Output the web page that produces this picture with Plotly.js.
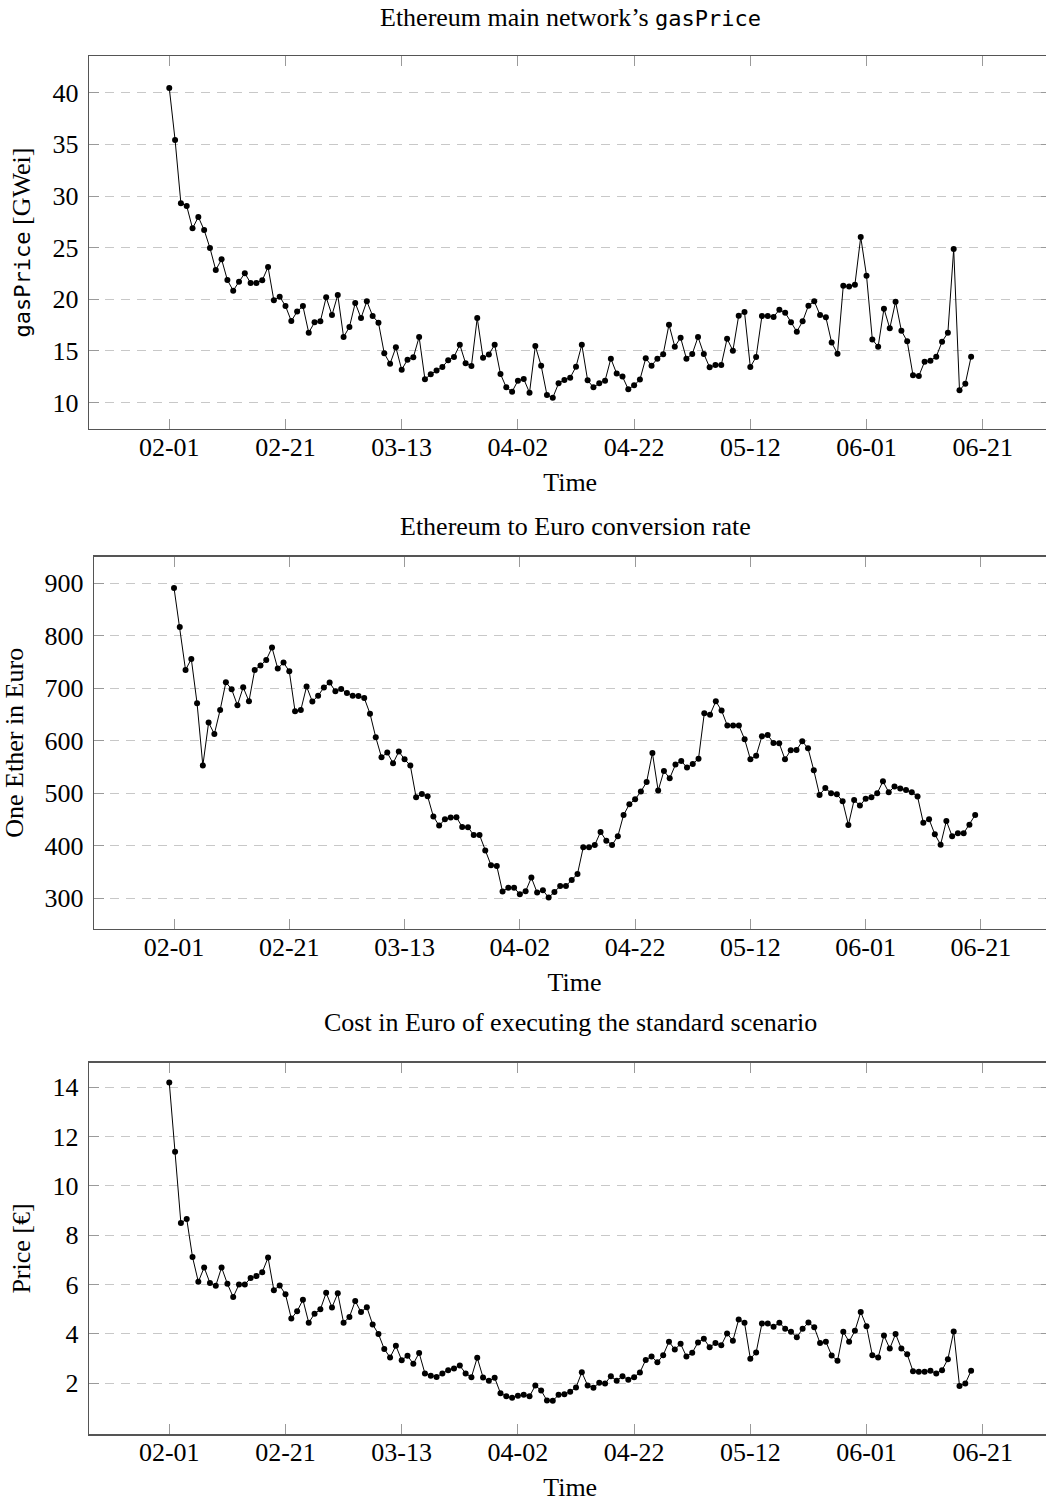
<!DOCTYPE html>
<html>
<head>
<meta charset="utf-8">
<script src="https://cdn.plot.ly/plotly-3.0.1.min.js"></script>
<style>html,body{margin:0;padding:0;overflow:hidden;background:#fff}</style>
</head>
<body>
<div id="chart" style="width:1070px;height:1505px"></div>
<script>
// ---- data (daily values starting 2018-02-01) ----
const startDate = '2018-02-01';

const gasPrice = [
  40.45, 35.42, 29.29, 29.03, 26.87, 27.97, 26.71, 24.97, 22.84, 23.87,
  21.87, 20.84, 21.71, 22.52, 21.58, 21.58, 21.84, 23.13, 19.90, 20.26,
  19.35, 17.90, 18.81, 19.35, 16.77, 17.77, 17.87, 20.19, 18.48, 20.42,
  16.35, 17.32, 19.65, 18.19, 19.81, 18.39, 17.74, 14.77, 13.77, 15.35,
  13.19, 14.16, 14.39, 16.35, 12.26, 12.74, 13.10, 13.45, 14.10, 14.42,
  15.61, 13.81, 13.55, 18.19, 14.35, 14.65, 15.61, 12.77, 11.48, 11.06,
  12.13, 12.29, 10.97, 15.48, 13.58, 10.74, 10.48, 11.87, 12.19, 12.42,
  13.48, 15.61, 12.16, 11.48, 11.87, 12.13, 14.26, 12.81, 12.52, 11.29,
  11.68, 12.23, 14.29, 13.58, 14.26, 14.68, 17.55, 15.42, 16.29, 14.26,
  14.71, 16.35, 14.71, 13.42, 13.65, 13.65, 16.19, 15.03, 18.42, 18.77,
  13.45, 14.42, 18.39, 18.39, 18.29, 19.00, 18.71, 17.77, 16.87, 17.87,
  19.39, 19.81, 18.48, 18.26, 15.81, 14.74, 21.32, 21.23, 21.42, 26.03,
  22.29, 16.10, 15.42, 19.10, 17.19, 19.77, 16.97, 15.94, 12.65, 12.58,
  13.97, 14.06, 14.45, 15.90, 16.77, 24.87, 11.19, 11.84, 14.45
];

const euroRate = [
  891.1, 816.8, 734.9, 755.9, 671.4, 552.7, 634.6, 613.0, 658.7, 711.4,
  698.1, 667.6, 701.9, 675.2, 734.9, 743.2, 754.0, 777.5, 737.5, 748.9,
  732.4, 656.2, 658.7, 703.2, 674.6, 686.0, 701.3, 710.8, 694.3, 698.7,
  691.1, 686.0, 685.4, 681.6, 651.7, 606.7, 568.6, 577.5, 557.1, 579.4,
  564.8, 552.7, 492.4, 498.7, 494.3, 455.6, 438.4, 450.5, 453.7, 454.3,
  435.9, 435.2, 420.6, 420.6, 390.8, 362.9, 361.6, 312.7, 320.3, 320.3,
  307.6, 313.3, 339.4, 310.8, 315.2, 301.3, 312.1, 323.5, 323.5, 334.6,
  346.3, 397.1, 397.1, 401.6, 426.3, 409.8, 401.6, 418.1, 458.7, 479.0,
  488.6, 503.2, 521.6, 576.8, 505.1, 542.5, 528.6, 554.6, 561.6, 548.9,
  555.9, 566.0, 652.4, 649.8, 675.2, 657.5, 628.9, 628.9, 628.9, 602.9,
  564.8, 571.7, 608.6, 611.1, 595.9, 595.2, 564.8, 581.9, 582.5, 599.0,
  585.7, 543.8, 496.8, 510.2, 500.0, 498.1, 484.8, 439.7, 487.3, 476.5,
  489.8, 492.4, 500.0, 522.9, 502.0, 512.7, 508.9, 506.3, 501.9, 493.7,
  444.1, 450.5, 421.9, 402.2, 447.3, 418.1, 423.8, 423.8, 440.3, 458.7
];

const cost = [
  14.20, 11.39, 8.49, 8.66, 7.11, 6.11, 6.69, 6.06, 5.95, 6.69,
  6.03, 5.49, 6.00, 6.00, 6.26, 6.34, 6.50, 7.09, 5.77, 5.96,
  5.60, 4.62, 4.91, 5.38, 4.45, 4.81, 4.99, 5.66, 5.07, 5.64,
  4.45, 4.68, 5.33, 4.88, 5.08, 4.38, 3.99, 3.38, 3.04, 3.51,
  2.93, 3.11, 2.78, 3.22, 2.39, 2.30, 2.25, 2.39, 2.52, 2.59,
  2.71, 2.39, 2.24, 3.03, 2.23, 2.09, 2.21, 1.59, 1.46, 1.40,
  1.48, 1.52, 1.46, 1.90, 1.70, 1.29, 1.28, 1.52, 1.55, 1.65,
  1.82, 2.44, 1.90, 1.81, 2.01, 1.98, 2.28, 2.09, 2.28, 2.13,
  2.24, 2.43, 2.94, 3.08, 2.84, 3.13, 3.68, 3.36, 3.59, 3.08,
  3.23, 3.65, 3.80, 3.45, 3.63, 3.53, 4.01, 3.72, 4.58, 4.45,
  2.99, 3.24, 4.42, 4.42, 4.28, 4.45, 4.20, 4.08, 3.86, 4.20,
  4.46, 4.26, 3.62, 3.68, 3.12, 2.90, 4.08, 3.68, 4.12, 4.88,
  4.30, 3.13, 3.04, 3.93, 3.40, 3.99, 3.40, 3.17, 2.48, 2.46,
  2.46, 2.50, 2.39, 2.52, 2.97, 4.09, 1.88, 1.98, 2.50
];

const tickDates  = ['2018-02-01','2018-02-21','2018-03-13','2018-04-02','2018-04-22','2018-05-12','2018-06-01','2018-06-21'];
const tickLabels = ['02-01','02-21','03-13','04-02','04-22','05-12','06-01','06-21'];
const gasTicks  = [10, 15, 20, 25, 30, 35, 40];
const rateTicks = [300, 400, 500, 600, 700, 800, 900];
const costTicks = [2, 4, 6, 8, 10, 12, 14];

const chartTitles = [
  'Ethereum main network\u2019s <span style="font-family:\'DejaVu Sans Mono\';font-size:22px">gasPrice</span>',
  'Ethereum to Euro conversion rate',
  'Cost in Euro of executing the standard scenario'
];
const yTitles = [
  '<span style="font-family:\'DejaVu Sans Mono\';font-size:22px">gasPrice</span> [GWei]',
  'One Ether in Euro',
  'Price [\u20AC]'
];
const xTitle = 'Time';

// ---- helpers ----
const DAY = 86400000;
const t0 = Date.parse(startDate + 'T00:00:00Z');
const dayString = i => new Date(t0 + i * DAY).toISOString().slice(0, 10);
const datesOf = arr => arr.map((_, i) => dayString(i));

const W = 1070, H = 1505;
const FONT = 'Liberation Serif, Times New Roman, serif';
const FS = 26;

function trace(values, xa, ya) {
  return {
    x: datesOf(values), y: values, xaxis: xa, yaxis: ya,
    type: 'scatter', mode: 'lines+markers',
    line: {color: '#000', width: 1},
    marker: {color: '#000', size: 6},
    hoverinfo: 'skip', showlegend: false
  };
}

function xAxis(px0, px1, n, anchor) {
  return {
    domain: [px0 / W, px1 / W], anchor: anchor, type: 'date',
    range: [t0 - 0.1 * (n - 1) * DAY, t0 + 1.1 * (n - 1) * DAY],
    tickmode: 'array', tickvals: tickDates, ticktext: tickLabels,
    ticks: 'inside', ticklen: 10, tickwidth: 1, tickcolor: '#9a9a9a',
    showline: true, linecolor: '#555', linewidth: 1.3, mirror: 'ticks',
    showgrid: false, zeroline: false, automargin: false,
    tickfont: {family: FONT, size: FS, color: '#000'}, ticklabelstandoff: -6,
    title: {text: xTitle, font: {family: FONT, size: FS, color: '#000'}, standoff: 12}
  };
}

function yAxis(py0, py1, range, ticks, anchor, title) {
  return {
    domain: [1 - py1 / H, 1 - py0 / H], anchor: anchor, range: range,
    tickmode: 'array', tickvals: ticks,
    ticks: 'inside', ticklen: 10, tickwidth: 1, tickcolor: '#9a9a9a',
    showline: true, linecolor: '#555', linewidth: 1.3, mirror: 'ticks',
    showgrid: true, gridcolor: '#c8c8c8', gridwidth: 1, griddash: '9px,7px',
    zeroline: false, automargin: false,
    tickfont: {family: FONT, size: FS, color: '#000'}, ticklabelstandoff: 4,
    title: {text: title, font: {family: FONT, size: FS, color: '#000'}, standoff: 14}
  };
}

const data = [
  trace(gasPrice, 'x', 'y'),
  trace(euroRate, 'x2', 'y2'),
  trace(cost, 'x3', 'y3')
];

function titleAnn(text, cx, cy) {
  return {text: text, xref: 'paper', yref: 'paper', x: cx / W, y: 1 - cy / H,
          xanchor: 'center', yanchor: 'middle', showarrow: false,
          font: {family: FONT, size: FS, color: '#000'}};
}

const layout = {
  width: W, height: H,
  margin: {l: 0, r: 0, t: 0, b: 0},
  paper_bgcolor: '#fff', plot_bgcolor: '#fff',
  font: {family: FONT, size: FS, color: '#000'},
  xaxis:  xAxis(89.1, 1051.3, gasPrice.length, 'y'),
  yaxis:  yAxis(56, 429, [7.45, 43.55], gasTicks, 'x', yTitles[0]),
  xaxis2: xAxis(93.9, 1055.3, euroRate.length, 'y2'),
  yaxis2: yAxis(556.6, 929, [241.5, 950.8], rateTicks, 'x2', yTitles[1]),
  xaxis3: xAxis(89.1, 1051.3, cost.length, 'y3'),
  yaxis3: yAxis(1062.7, 1434.3, [-0.08, 15.0], costTicks, 'x3', yTitles[2]),
  annotations: [
    titleAnn(chartTitles[0], 570, 17),
    titleAnn(chartTitles[1], 575, 527),
    titleAnn(chartTitles[2], 570, 1023)
  ]
};

Plotly.newPlot('chart', data, layout, {staticPlot: true, displayModeBar: false});
</script>
</body>
</html>
